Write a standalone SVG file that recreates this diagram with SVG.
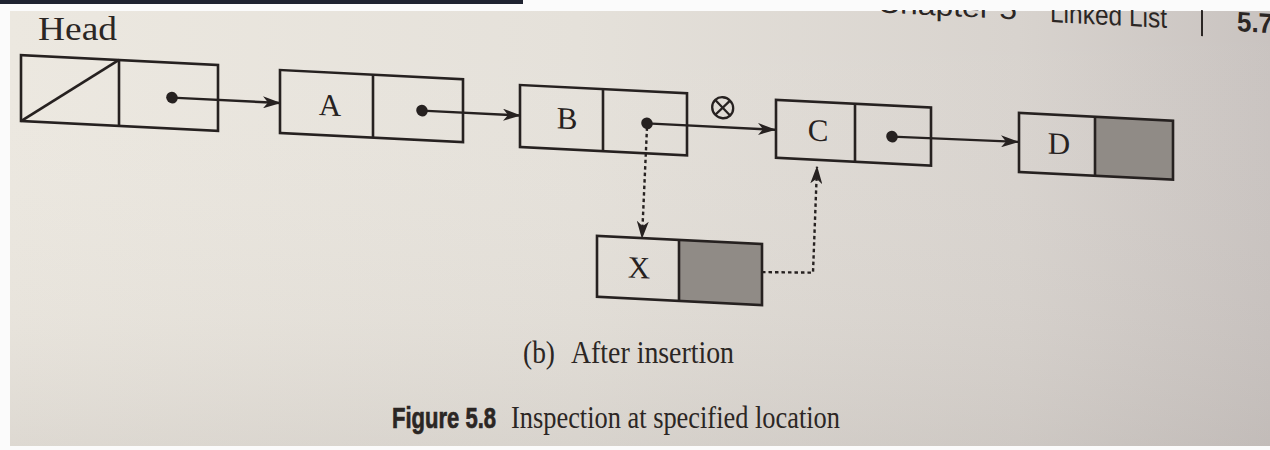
<svg xmlns="http://www.w3.org/2000/svg" width="1270" height="450" viewBox="0 0 1270 450">
  <defs>
    <linearGradient id="paper" x1="0" y1="0" x2="1" y2="0">
      <stop offset="0" stop-color="#ece8e0"/>
      <stop offset="0.45" stop-color="#e5e1da"/>
      <stop offset="0.8" stop-color="#d8d3ce"/>
      <stop offset="1" stop-color="#c9c3c0"/>
    </linearGradient>
    <linearGradient id="paperShade" x1="0" y1="0" x2="0" y2="1">
      <stop offset="0" stop-color="#ffffff" stop-opacity="0"/>
      <stop offset="0.7" stop-color="#b8b2ae" stop-opacity="0.08"/>
      <stop offset="1" stop-color="#a9a29e" stop-opacity="0.22"/>
    </linearGradient>
    <marker id="arrow" viewBox="0 0 18 12" refX="17" refY="6" markerWidth="18" markerHeight="12" markerUnits="userSpaceOnUse" orient="auto">
      <path d="M0,0 L18,6 L0,12 L5,6 Z" fill="#262120"/>
    </marker>
    <style>
      .box { fill: none; stroke: #262120; stroke-width: 2.6; }
      .div { stroke: #262120; stroke-width: 2.6; }
      .shade { fill: #908b86; }
      .link { fill: none; stroke: #262120; stroke-width: 2.4; }
      .dotted { fill: none; stroke: #262120; stroke-width: 2.4; stroke-dasharray: 3.5 3; }
      .dot { fill: #262120; }
      .lbl { font-family: "Liberation Serif", "Times New Roman", serif; font-size: 31px; fill: #262120; text-anchor: middle; }
      .serif { font-family: "Liberation Serif", "Times New Roman", serif; fill: #2b2624; }
      .sans { font-family: "Liberation Sans", Arial, sans-serif; fill: #2b2624; }
    </style>
  </defs>

  <!-- photo border and page -->
  <rect x="0" y="0" width="1270" height="450" fill="#fbfbfb"/>
  <rect x="10" y="11" width="1260" height="435" fill="url(#paper)"/>
  <rect x="10" y="11" width="1260" height="435" fill="url(#paperShade)"/>

  <!-- running head (its top runs off the page edge) -->
  <g id="running-head" transform="matrix(1 0.05 0 1 0 0)">
    <text class="sans" x="877" y="-31.5" font-size="28" textLength="140" lengthAdjust="spacingAndGlyphs">Chapter 5</text>
    <text class="sans" x="1050" y="-30.5" font-size="28" textLength="117" lengthAdjust="spacingAndGlyphs">Linked List</text>
    <line x1="1202" y1="-50" x2="1202" y2="-24" stroke="#2b2624" stroke-width="2"/>
    <text class="sans" x="1237" y="-30.5" font-size="28" font-weight="bold" textLength="36" lengthAdjust="spacingAndGlyphs">5.7</text>
  </g>
  <!-- margin above the page hides the cut-off tops -->
  <rect x="0" y="0" width="1270" height="10" fill="#fbfbfb"/>
  <rect x="0" y="0" width="523" height="4" fill="#1f2330"/>

  <text class="serif" x="38" y="40" font-size="34" textLength="79" lengthAdjust="spacingAndGlyphs">Head</text>

  <g id="diagram" transform="matrix(1 0.05 0 1 0 0)">
    <g id="connectors">
      <line class="link" x1="172" y1="89" x2="280" y2="89" marker-end="url(#arrow)"/>
      <line class="link" x1="422" y1="89.5" x2="520" y2="89.5" marker-end="url(#arrow)"/>
      <line class="link" x1="647" y1="91" x2="775" y2="91" marker-end="url(#arrow)"/>
      <line class="link" x1="892" y1="92" x2="1018" y2="91" marker-end="url(#arrow)"/>
      <path class="dotted" d="M647,95 L642,206" marker-end="url(#arrow)"/>
      <path class="dotted" d="M762,234 L813,232 L817,126" marker-end="url(#arrow)"/>
    </g>

    <g id="node-head">
      <rect class="box" x="21" y="54" width="197" height="66"/>
      <line class="div" x1="119" y1="54" x2="119" y2="120"/>
      <line class="div" x1="21" y1="120" x2="119" y2="54"/>
      <circle class="dot" cx="172" cy="89" r="5.8"/>
    </g>

    <g id="node-a">
      <rect class="box" x="280" y="56" width="183" height="63"/>
      <line class="div" x1="373" y1="56" x2="373" y2="119"/>
      <text class="lbl" x="330" y="99">A</text>
      <circle class="dot" cx="422" cy="89.5" r="5.8"/>
    </g>

    <g id="node-b">
      <rect class="box" x="520" y="59" width="167" height="62"/>
      <line class="div" x1="603" y1="59" x2="603" y2="121"/>
      <text class="lbl" x="567" y="100.5">B</text>
      <circle class="dot" cx="647" cy="91" r="5.8"/>
    </g>

    <g id="broken-link">
      <circle cx="722.7" cy="71.6" r="10.5" fill="none" stroke="#262120" stroke-width="2.3"/>
      <line x1="715.3" y1="64.2" x2="730.1" y2="79" stroke="#262120" stroke-width="2.3"/>
      <line x1="730.1" y1="64.2" x2="715.3" y2="79" stroke="#262120" stroke-width="2.3"/>
    </g>

    <g id="node-c">
      <rect class="box" x="776" y="61" width="155" height="58"/>
      <line class="div" x1="855" y1="61" x2="855" y2="119"/>
      <text class="lbl" x="818" y="100">C</text>
      <circle class="dot" cx="892" cy="92" r="5.8"/>
    </g>

    <g id="node-d">
      <rect class="shade" x="1095" y="62" width="78" height="59"/>
      <rect class="box" x="1019" y="62" width="154" height="59"/>
      <line class="div" x1="1095" y1="62" x2="1095" y2="121"/>
      <text class="lbl" x="1059" y="101">D</text>
    </g>

    <g id="node-x">
      <rect class="shade" x="679" y="206" width="83" height="61" fill="#9a958f"/>
      <rect class="box" x="597" y="206" width="165" height="61"/>
      <line class="div" x1="679" y1="206" x2="679" y2="267"/>
      <text class="lbl" x="639" y="246">X</text>
    </g>
  </g>

  <text class="serif" x="523" y="363" font-size="31" textLength="32" lengthAdjust="spacingAndGlyphs">(b)</text>
  <text class="serif" x="571" y="363" font-size="31" textLength="163" lengthAdjust="spacingAndGlyphs">After insertion</text>

  <text class="sans" x="392" y="428" font-size="30" font-weight="bold" stroke="#2b2624" stroke-width="0.7" textLength="104" lengthAdjust="spacingAndGlyphs">Figure 5.8</text>
  <text class="serif" x="511" y="428" font-size="31" textLength="329" lengthAdjust="spacingAndGlyphs">Inspection at specified location</text>
</svg>
